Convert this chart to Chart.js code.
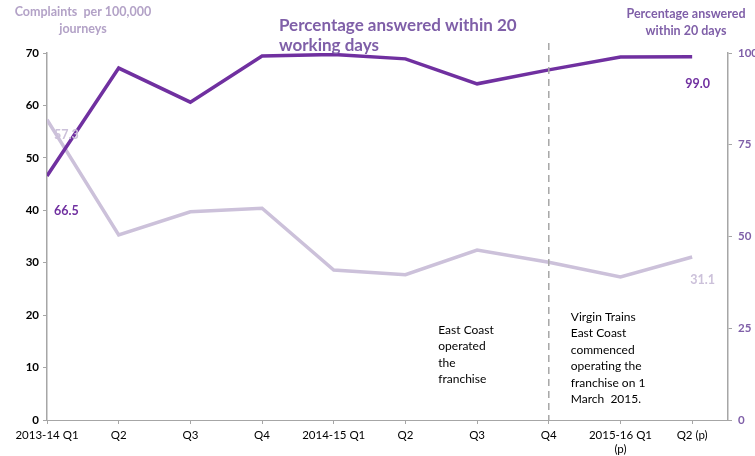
<!DOCTYPE html>
<html>
<head>
<meta charset="utf-8">
<script src="https://cdn.jsdelivr.net/npm/chart.js@4"></script>
<style>
  html, body { margin: 0; padding: 0; background: #fff; }
  #wrap { width: 755px; height: 456px; position: relative; }
</style>
</head>
<body>
<div id="wrap"><canvas id="chart" width="755" height="456"></canvas></div>
<script>
const quarters = ["2013-14 Q1", "Q2", "Q3", "Q4", "2014-15 Q1", "Q2", "Q3", "Q4", ["2015-16 Q1", "(p)"], "Q2 (p)"];
const complaints = [57.3, 35.3, 39.7, 40.4, 28.6, 27.7, 32.4, 30.1, 27.3, 31.1];
const answered = [66.5, 95.9, 86.6, 99.2, 99.6, 98.4, 91.6, 95.4, 98.9, 99.0];
const leftTicks = [0, 10, 20, 30, 40, 50, 60, 70];
const rightTicks = [0, 25, 50, 75, 100];
const changeIndex = 7;

const darkPurple = "#7030A0";
const lightPurple = "#CCC1DA";
const font = "Lato, 'Open Sans', sans-serif";

const extras = {
  id: "extras",
  afterDatasetsDraw(c) {
    const ctx = c.ctx;
    const x = c.scales.x, yl = c.scales.yL, yr = c.scales.yR;
    ctx.save();
    // dashed line at franchise change
    const dx = x.getPixelForValue(changeIndex);
    ctx.strokeStyle = "#A6A6A6";
    ctx.lineWidth = 1.5;
    ctx.setLineDash([7, 5]);
    ctx.beginPath();
    ctx.moveTo(dx, 43);
    ctx.lineTo(dx, yl.bottom);
    ctx.stroke();
    ctx.setLineDash([]);

    // titles
    ctx.textBaseline = "top";
    ctx.fillStyle = "#B3A2C7";
    ctx.font = "bold 12.5px " + font;
    ctx.textAlign = "center";
    ctx.fillText("Complaints  per 100,000", 83, 6);
    ctx.fillText("journeys", 83, 23);
    ctx.fillStyle = "#7F5FA8";
    ctx.fillText("Percentage answered", 686, 8);
    ctx.fillText("within 20 days", 686, 25);
    ctx.font = "bold 17px " + font;
    ctx.textAlign = "left";
    ctx.fillText("Percentage answered within 20", 279, 17);
    ctx.fillText("working days", 279, 37);

    // annotations
    ctx.fillStyle = "#000";
    ctx.font = "12px " + font;
    const ec = ["East Coast", "operated", "the", "franchise"];
    ec.forEach((t, i) => ctx.fillText(t, x.getPixelForValue(5.5) - 3, 324 + i * 16.5));
    const vt = ["Virgin Trains", "East Coast", "commenced", "operating the", "franchise on 1", "March  2015."];
    vt.forEach((t, i) => ctx.fillText(t, dx + 22, 311 + i * 16.5));

    // data labels
    ctx.font = "bold 12.5px " + font;
    ctx.textBaseline = "middle";
    ctx.fillStyle = darkPurple;
    ctx.fillText(answered[0].toFixed(1), x.getPixelForValue(0) + 7, yl.getPixelForValue(40) + 1);
    const last = answered.length - 1;
    ctx.fillText(answered[last].toFixed(1), x.getPixelForValue(last) - 7, yr.getPixelForValue(answered[last]) + 27);
    ctx.fillStyle = lightPurple;
    ctx.fillText(complaints[0].toFixed(1), x.getPixelForValue(0) + 7, yl.getPixelForValue(complaints[0]) + 15);
    ctx.fillText(complaints[last].toFixed(1), x.getPixelForValue(last) - 2, yl.getPixelForValue(complaints[last]) + 23);
    ctx.restore();
  }
};

new Chart(document.getElementById("chart"), {
  type: "line",
  data: {
    datasets: [
      {
        label: "Percentage answered within 20 days",
        data: answered.map((v, i) => ({ x: i, y: v })),
        yAxisID: "yR",
        borderColor: darkPurple,
        borderWidth: 3.5,
        pointRadius: 0,
        tension: 0
      },
      {
        label: "Complaints per 100,000 journeys",
        data: complaints.map((v, i) => ({ x: i, y: v })),
        yAxisID: "yL",
        borderColor: lightPurple,
        borderWidth: 3.5,
        pointRadius: 0,
        tension: 0
      }
    ]
  },
  options: {
    responsive: false,
    animation: false,
    layout: { padding: { top: 53, bottom: 0, left: 0, right: 0 } },
    plugins: { legend: { display: false }, tooltip: { enabled: false } },
    scales: {
      x: {
        type: "linear",
        min: 0,
        max: 9.5,
        afterBuildTicks: (s) => { s.ticks = quarters.map((_, i) => ({ value: i })); },
        afterFit: (s) => { s.height = 36; },
        ticks: {
          autoSkip: false,
          maxRotation: 0,
          padding: 4,
          color: "#000",
          font: { family: font, size: 11.5, lineHeight: 1.25 },
          callback: (v) => quarters[v]
        },
        grid: { drawOnChartArea: false, tickLength: 4, color: "#A6A6A6" },
        border: { color: "#A6A6A6", width: 1 }
      },
      yL: {
        position: "left",
        min: 0,
        max: 70,
        afterBuildTicks: (s) => { s.ticks = leftTicks.map((v) => ({ value: v })); },
        afterFit: (s) => { s.width = 47; },
        ticks: { color: "#000", padding: 4, font: { family: font, size: 11.5, weight: "bold" } },
        grid: { drawOnChartArea: false, tickLength: 4, color: "#A6A6A6" },
        border: { color: "#A6A6A6", width: 1.5 }
      },
      yR: {
        position: "right",
        min: 0,
        max: 100,
        afterBuildTicks: (s) => { s.ticks = rightTicks.map((v) => ({ value: v })); },
        afterFit: (s) => { s.width = 27; },
        ticks: { color: "#7F5FA8", padding: 6, font: { family: font, size: 11.5, weight: "bold" } },
        grid: { drawOnChartArea: false, tickLength: 4, color: "#A6A6A6" },
        border: { color: "#A6A6A6", width: 1.5 }
      }
    }
  },
  plugins: [extras]
});
</script>
</body>
</html>
